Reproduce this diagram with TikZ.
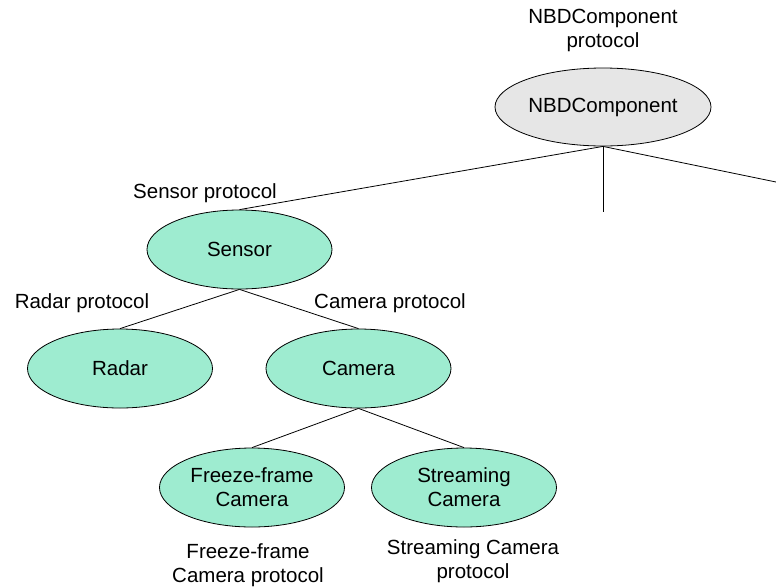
\documentclass[tikz,border=0pt]{standalone}
\usepackage{fontspec}
\setmainfont{Liberation Sans}
\usetikzlibrary{shapes.geometric}
\definecolor{mint}{RGB}{158,236,208}
\definecolor{lgray}{RGB}{230,230,230}
\begin{document}
\begin{tikzpicture}[x=1pt,y=-1pt,
  every node/.style={font=\fontsize{20.5}{24}\selectfont, align=center, inner sep=0pt},
  oval/.style={ellipse, draw=black, line width=0.8pt, fill=mint, minimum width=185pt, minimum height=79pt},
  rootoval/.style={oval, fill=lgray, minimum width=216pt, minimum height=78pt},
  link/.style={draw=black, line width=0.8pt}]
\useasboundingbox (0,0) rectangle (776,587);
\fill[white] (0,0) rectangle (776,587);
% nodes
\node[rootoval] (root) at (603,107) {NBDComponent};
\node[oval] (sensor) at (239.5,249.5) {Sensor};
\node[oval] (radar) at (120,368.5) {Radar};
\node[oval] (camera) at (358.5,368.5) {Camera};
\node[oval] (freeze) at (252,487.5) {Freeze-frame\\Camera};
\node[oval] (stream) at (464,487.5) {Streaming\\Camera};
% labels
\node (lroot) at (603,30) {NBDComponent\\protocol};
\node (lsensor) at (205,193) {Sensor protocol};
\node (lradar) at (82,303) {Radar protocol};
\node (lcamera) at (390,303) {Camera protocol};
\node (lfreeze) at (248,565) {Freeze-frame\\Camera protocol};
\node (lstream) at (473,561) {Streaming Camera\\protocol};
% free ends
\coordinate (mid) at (603,212);
\coordinate (right) at (776,182);
% connectors
\draw[link] (root.south) -- (sensor.north);
\draw[link] (root.south) -- (mid);
\draw[link] (root.south) -- (right);
\draw[link] (sensor.south) -- (radar.north);
\draw[link] (sensor.south) -- (camera.north);
\draw[link] (camera.south) -- (freeze.north);
\draw[link] (camera.south) -- (stream.north);
\end{tikzpicture}
\end{document}
